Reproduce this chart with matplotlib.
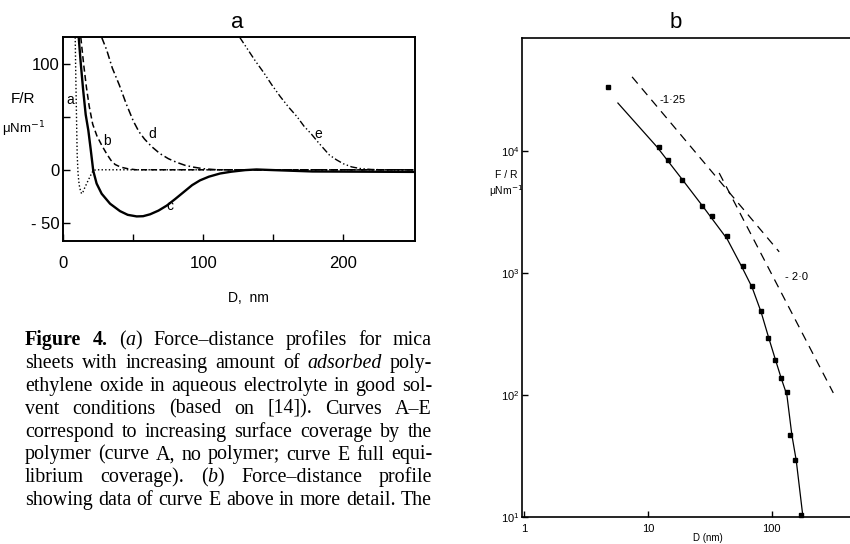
import re
import numpy as np
import matplotlib
matplotlib.use("Agg")
import matplotlib.pyplot as plt

plt.rcParams['axes.unicode_minus'] = False
plt.rcParams['font.family'] = ['Liberation Sans', 'DejaVu Sans']

# ---- panel a: force-distance curves (D in nm, F/R in uN/m) ----
a_x = [8.5, 8.9, 9.3, 9.6, 9.9, 10.5, 11.3, 12.3, 13.1, 14.0, 15.3, 16.7, 18.5, 20.0, 21.4, 24, 250]
a_y = [125, 90, 60, 37, 15, -3, -14, -20, -22.6, -21, -17, -13, -8, -4, -0.5, 0, 0]

b_x = [12.5, 14.5, 16.5, 18.5, 21, 24, 27.5, 31, 34, 37, 41, 46, 52, 250]
b_y = [125, 100, 78, 60, 43, 32, 23, 15, 9, 5, 2.5, 1, 0, 0]

c_x = [11, 12.5, 14.2, 16, 17.9, 19.5, 21.4, 23.8, 27.4, 33.4, 40.5, 46, 52.4, 57, 62, 68, 74,
       80, 86, 92, 97.6, 104, 112, 120, 130, 138, 150, 178, 250]
c_y = [125, 100, 75, 52, 37, 20, -1, -13, -22.6, -32, -39, -42.5, -44, -43.8, -42, -38.5, -33.7,
       -27.5, -21, -14.5, -10, -6.5, -3.5, -1.8, -0.3, 0.3, -0.3, -1.6, -2]

d_x = [27.4, 31, 35, 40, 45, 50, 54, 58, 63, 69, 75, 81, 87, 93, 100, 110, 250]
d_y = [125, 113, 96, 80, 62, 46, 36, 29, 22, 15.3, 10.5, 7, 4.2, 2.5, 1, 0, 0]

e_x = [126, 131, 137, 143, 149, 155, 161, 167, 172, 177, 182, 186, 190, 195, 200, 206, 212, 220, 230, 250]
e_y = [125, 115, 103, 92, 80, 69, 59, 50, 41, 34, 26, 20, 14, 9.5, 5.7, 2.7, 1.2, 0.3, 0, 0]

# ---- panel b: curve E on log-log axes ----
pts_D = [4.74, 12.3, 14.5, 18.9, 27.4, 33.0, 43.6, 58.8, 69.5, 82.2, 93.7, 106.7, 119.3, 133.6, 141.3, 155, 173]
pts_F = [33500, 10800, 8440, 5780, 3540, 2930, 2010, 1140, 782, 489, 293, 194, 138, 106, 47, 29.3, 10.4]

fit_D = [5.7, 11.8, 19, 28.0, 43.6, 57.4, 69.5, 82, 95, 108, 120, 132.7, 145.6, 158, 179]
fit_F = [24700, 10800, 5800, 3470, 1900, 1120, 760, 480, 290, 190, 135, 100, 47, 29, 10]

slope125_D = [7.42, 115]
slope125_F = [40500, 1490]
slope2_D = [37.6, 315]
slope2_F = [6600, 104]

caption = [
    "#Figure# #4.# (*a*) Force–distance profiles for mica",
    "sheets with increasing amount of *adsorbed* poly-",
    "ethylene oxide in aqueous electrolyte in good sol-",
    "vent conditions (based on [14]). Curves A–E",
    "correspond to increasing surface coverage by the",
    "polymer (curve A, no polymer; curve E full equi-",
    "librium coverage). (*b*) Force–distance profile",
    "showing data of curve E above in more detail. The",
]

W, H = 850, 544
fig = plt.figure(figsize=(8.5, 5.44), dpi=100)


def px(x, y):
    return x / W, 1 - y / H


# panel a
ax = fig.add_axes([63.3 / W, 1 - 241 / H, (415 - 63.3) / W, (241 - 37) / H])
ax.plot(a_x, a_y, color='black', lw=1.0, ls=(0, (1, 1.6)))
ax.plot(b_x, b_y, color='black', lw=1.1, ls=(0, (4, 2.2)))
ax.plot(c_x, c_y, color='black', lw=1.7)
ax.plot(d_x, d_y, color='black', lw=1.1, ls=(0, (5, 2, 1, 2)))
ax.plot(e_x, e_y, color='black', lw=1.0, ls=(0, (5, 1.8, 1, 1.8, 1, 1.8)))
ax.set_xlim(0, 251.2)
ax.set_ylim(-67.2, 125.3)
ax.set_xticks([0, 100, 200])
ax.set_xticks([50, 150], minor=True)
ax.set_yticks([-50, 0, 100])
ax.set_yticklabels(['- 50', '0', '100'])
ax.set_yticks([50], minor=True)
ax.tick_params(which='both', direction='in', length=5, width=1.0, labelsize=12)
ax.tick_params(axis='x', pad=11)
ax.tick_params(axis='y', pad=2.5)
for s in ax.spines.values():
    s.set_linewidth(1.4)

for lab, x, y in [('a', 70, 100), ('b', 107, 141), ('d', 152, 134), ('e', 318, 134), ('c', 170, 206)]:
    fig.text(*px(x, y), lab, ha='center', va='center', fontsize=10)
fig.text(*px(237, 23), 'a', ha='center', va='center', fontsize=16)
fig.text(*px(23, 99), 'F/R', ha='center', va='center', fontsize=11)
fig.text(*px(24, 129), 'μNm$^{-1}$', ha='center', va='center', fontsize=9.5)
fig.text(*px(248, 298), 'D,  nm', ha='center', va='center', fontsize=10)

# panel b
bx = fig.add_axes([522 / W, 1 - 517 / H, (850 - 522) / W, (517 - 38) / H])
bx.set_xscale('log')
bx.set_yscale('log')
bx.plot(pts_D, pts_F, 's', color='black', ms=3.2, clip_on=False)
bx.plot(fit_D, fit_F, color='black', lw=0.9)
bx.plot(slope125_D, slope125_F, color='black', lw=0.9, ls=(0, (7, 5)))
bx.plot(slope2_D, slope2_F, color='black', lw=0.9, ls=(0, (7, 5)))
bx.set_xlim(0.955, 430)
bx.set_ylim(10, 84300)
bx.set_xticks([1, 10, 100])
bx.set_xticklabels(['1', '10', '100'])
bx.set_yticks([10, 100, 1000, 10000])
bx.set_yticklabels([r'$\mathregular{10^{1}}$', r'$\mathregular{10^{2}}$',
                    r'$\mathregular{10^{3}}$', r'$\mathregular{10^{4}}$'])
bx.minorticks_off()
bx.tick_params(which='both', direction='in', length=4, width=1.0, labelsize=8)
bx.tick_params(axis='x', pad=5)
bx.tick_params(axis='y', pad=2)
bx.spines['right'].set_visible(False)
for s in bx.spines.values():
    s.set_linewidth(1.2)
bx.text(15.9, 26200, '-1·25', ha='center', va='center', fontsize=8)
bx.text(160, 930, '- 2·0', ha='center', va='center', fontsize=8)
fig.text(*px(676, 23), 'b', ha='center', va='center', fontsize=16)
fig.text(*px(506, 175), 'F / R', ha='center', va='center', fontsize=7.5)
fig.text(*px(506, 191), 'μNm$^{-1}$', ha='center', va='center', fontsize=7.5)
fig.text(*px(708, 538), 'D (nm)', ha='center', va='center', fontsize=7)

# caption, justified between x=25 and x=432
renderer = fig.canvas.get_renderer()
cap_font = dict(family='Liberation Serif', fontsize=14.4)


def segments(word):
    out = []
    for p in re.split(r'(\*[^*]+\*|#[^#]+#)', word):
        if not p:
            continue
        if p.startswith('*'):
            out.append((p[1:-1], 'italic', 'normal'))
        elif p.startswith('#'):
            out.append((p[1:-1], 'normal', 'bold'))
        else:
            out.append((p, 'normal', 'normal'))
    return out


left, right = 25, 432
for i, line in enumerate(caption):
    base = 345 + i * 22.9
    words = []
    total = 0
    for w in line.split(' '):
        parts = []
        for txt, style, weight in segments(w):
            t = fig.text(0, 0, txt, style=style, weight=weight, va='baseline', **cap_font)
            wd = t.get_window_extent(renderer).width
            parts.append((t, wd))
            total += wd
        words.append(parts)
    gap = (right - left - total) / (len(words) - 1)
    x = left
    for parts in words:
        for t, wd in parts:
            t.set_position(px(x, base))
            x += wd
        x += gap

fig.savefig('out.png', dpi=100)
